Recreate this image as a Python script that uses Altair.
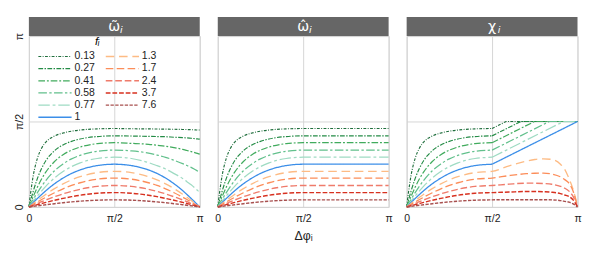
import altair as alt
import pandas as pd

# series labels (f_i) and styles
F_LABELS = ["0.13", "0.27", "0.41", "0.58", "0.77", "1", "1.3", "1.7", "2.4", "3.7", "7.6"]
COLORS = ["#1f6e3c", "#238b45", "#41ab5d", "#62c08c", "#9fdbc3", "#3b8ee8",
          "#fdbb84", "#fc8d59", "#ef7b6b", "#d7301f", "#a8504f"]
DASHES = [[3, 1.5, 1, 1.5], [5, 1.5, 1.5, 1.5], [7, 2, 2, 2], [9, 2.5, 2.5, 2.5], [12, 3, 3, 3], [1, 0],
          [9, 5], [8, 3.5], [7, 3], [5, 2], [3.5, 1.5]]
WIDTHS = [1.2, 1.5, 1.8, 2.0, 2.2, 1.6, 2.2, 2.0, 1.8, 1.5, 1.3]

PANELS = ["ω̃", "ω̂", "χ"]

# Δφ in units of π ; angles in units of π/2
X_LEFT = [0, 0.01, 0.025, 0.05, 0.075, 0.1, 0.15, 0.2, 0.25, 0.3, 0.4, 0.5]
LEFT = {
    "0.13": [0, 0.16, 0.36, 0.57, 0.69, 0.76, 0.83, 0.865, 0.887, 0.90, 0.914, 0.918],
    "0.27": [0, 0.074, 0.18, 0.334, 0.453, 0.543, 0.658, 0.726, 0.768, 0.795, 0.824, 0.832],
    "0.41": [0, 0.049, 0.12, 0.232, 0.329, 0.411, 0.532, 0.612, 0.665, 0.701, 0.741, 0.752],
    "0.58": [0, 0.034, 0.086, 0.168, 0.244, 0.312, 0.423, 0.504, 0.563, 0.604, 0.651, 0.665],
    "0.77": [0, 0.026, 0.065, 0.128, 0.187, 0.243, 0.339, 0.415, 0.473, 0.516, 0.567, 0.582],
    "1":    [0, 0.02, 0.05, 0.099, 0.146, 0.191, 0.271, 0.338, 0.392, 0.433, 0.484, 0.5],
    "1.3":  [0, 0.015, 0.038, 0.076, 0.113, 0.149, 0.214, 0.27, 0.317, 0.354, 0.402, 0.417],
    "1.7":  [0, 0.012, 0.029, 0.058, 0.087, 0.114, 0.166, 0.212, 0.251, 0.283, 0.325, 0.338],
    "2.4":  [0, 0.008, 0.021, 0.041, 0.062, 0.082, 0.119, 0.153, 0.182, 0.207, 0.24, 0.251],
    "3.7":  [0, 0.005, 0.0135, 0.027, 0.04, 0.053, 0.078, 0.1, 0.12, 0.137, 0.16, 0.168],
    "7.6":  [0, 0.003, 0.0066, 0.013, 0.0196, 0.026, 0.038, 0.049, 0.059, 0.0675, 0.079, 0.083],
}

X_RIGHT = [0.6, 0.7, 0.75, 0.8, 0.85, 0.9, 0.925, 0.95, 0.975, 0.99, 1.0]
W_TILDE_RIGHT = {
    "0.13": [0.915, 0.914, 0.912, 0.911, 0.909, 0.907, 0.906, 0.904, 0.902, 0.90, 0.90],
    "0.27": [0.830, 0.826, 0.824, 0.822, 0.816, 0.811, 0.808, 0.804, 0.798, 0.795, 0.793],
    "0.41": [0.744, 0.733, 0.722, 0.711, 0.694, 0.674, 0.661, 0.648, 0.633, 0.624, 0.619],
    "0.58": [0.656, 0.630, 0.607, 0.581, 0.546, 0.507, 0.485, 0.463, 0.435, 0.418, 0.407],
    "0.77": [0.567, 0.519, 0.483, 0.444, 0.390, 0.333, 0.296, 0.259, 0.215, 0.188, 0.174],
    "1":    [0.484, 0.433, 0.392, 0.338, 0.271, 0.191, 0.146, 0.099, 0.05, 0.02, 0],
    "1.3":  [0.402, 0.354, 0.317, 0.27, 0.214, 0.149, 0.113, 0.076, 0.038, 0.015, 0],
    "1.7":  [0.325, 0.283, 0.251, 0.212, 0.166, 0.114, 0.087, 0.058, 0.029, 0.012, 0],
    "2.4":  [0.24, 0.207, 0.182, 0.153, 0.119, 0.082, 0.062, 0.041, 0.021, 0.008, 0],
    "3.7":  [0.16, 0.137, 0.12, 0.1, 0.078, 0.053, 0.04, 0.027, 0.0135, 0.005, 0],
    "7.6":  [0.079, 0.0675, 0.059, 0.049, 0.038, 0.026, 0.0196, 0.013, 0.0066, 0.003, 0],
}

# ω̂ stays at its plateau after π/2
W_HAT_END = {"0.13": 0.918, "0.27": 0.832, "0.41": 0.752, "0.58": 0.665, "0.77": 0.582, "1": 0.5,
             "1.3": 0.417, "1.7": 0.338, "2.4": 0.251, "3.7": 0.168, "7.6": 0.083}

# χ right half: f <= 1 rises straight from its π/2 value to π/2, then stays there
CHI_CAP_X = {"0.13": [0.5, 0.582, 1.0], "0.27": [0.5, 0.668, 1.0], "0.41": [0.5, 0.748, 1.0],
             "0.58": [0.5, 0.835, 1.0], "0.77": [0.5, 0.918, 1.0], "1": [0.5, 1.0]}
CHI_CAP_V = {"0.13": [0.918, 1, 1], "0.27": [0.832, 1, 1], "0.41": [0.752, 1, 1],
             "0.58": [0.665, 1, 1], "0.77": [0.582, 1, 1], "1": [0.5, 1]}
CHI_RIGHT = {
    "1.3": [0.481, 0.537, 0.555, 0.563, 0.556, 0.50, 0.44, 0.333, 0.20, 0.09, 0],
    "1.7": [0.367, 0.389, 0.394, 0.396, 0.385, 0.352, 0.32, 0.278, 0.18, 0.08, 0],
    "2.4": [0.267, 0.278, 0.278, 0.274, 0.265, 0.241, 0.22, 0.185, 0.12, 0.05, 0],
    "3.7": [0.174, 0.181, 0.181, 0.178, 0.172, 0.156, 0.14, 0.122, 0.08, 0.035, 0],
    "7.6": [0.085, 0.085, 0.085, 0.085, 0.083, 0.074, 0.065, 0.056, 0.035, 0.015, 0],
}


def build(panel):
    rows = []
    for f in F_LABELS:
        xs, vs = list(X_LEFT), list(LEFT[f])
        lin_x, lin_v = [], []
        if panel == 0:
            xs += X_RIGHT
            vs += W_TILDE_RIGHT[f]
        elif panel == 1:
            xs += [1.0]
            vs += [W_HAT_END[f]]
        else:
            if f in CHI_CAP_X:
                lin_x, lin_v = CHI_CAP_X[f], CHI_CAP_V[f]
            else:
                xs += X_RIGHT
                vs += CHI_RIGHT[f]
        for x, v in zip(xs, vs):
            rows.append({"f": f, "x": x, "v": v, "seg": "main"})
        for x, v in zip(lin_x, lin_v):
            rows.append({"f": f, "x": x, "v": v, "seg": "lin"})
    return pd.DataFrame(rows)


FONT = "Liberation Sans"
PW, PH = 180, 180

LEG = alt.Legend(title="fᵢ", orient="none", legendX=9, legendY=0, columns=2, symbolSize=1225,
                 symbolType="stroke", labelFontSize=11, labelFont=FONT, titleFont=FONT,
                 titleFontStyle="italic", titleFontSize=12, titleFontWeight="normal",
                 titleAnchor="middle", titleAlign="center", titlePadding=4, rowPadding=0.8,
                 columnPadding=10, clipHeight=11, labelOffset=2, padding=0, labelColor="#222")

XLAB = "datum.value == 0 ? '0' : (datum.value == 1 ? 'π' : 'π/2')"
YLAB = "datum.value == 0 ? '0' : (datum.value == 2 ? 'π' : 'π/2')"


def panel(i):
    df = build(i)
    first = i == 0
    xaxis = alt.Axis(values=[0, 0.5, 1], labelExpr=XLAB, title="Δφᵢ" if i == 1 else None,
                     labelFlush=False, labelPadding=6, titleFontWeight="normal", titleFontSize=13,
                     titlePadding=7)
    if first:
        yaxis = alt.Axis(values=[0, 1, 2], labelExpr=YLAB, title=None, labelAngle=-90,
                         labelFlush=False, labelPadding=5, labelAlign="center", labelBaseline="bottom")
    else:
        yaxis = alt.Axis(values=[0, 1, 2], labels=False, title=None)
    base = alt.Chart(df).encode(
        x=alt.X("x:Q", scale=alt.Scale(domain=[0, 1], nice=False, zero=False), axis=xaxis),
        y=alt.Y("v:Q", scale=alt.Scale(domain=[0, 2], nice=False), axis=yaxis),
        color=alt.Color("f:N", scale=alt.Scale(domain=F_LABELS, range=COLORS), legend=LEG if first else None),
        strokeDash=alt.StrokeDash("f:N", scale=alt.Scale(domain=F_LABELS, range=DASHES),
                                  legend=LEG if first else None),
        strokeWidth=alt.StrokeWidth("f:N", scale=alt.Scale(domain=F_LABELS, range=WIDTHS),
                                    legend=LEG if first else None),
    )
    smooth = base.transform_filter("datum.seg == 'main'").mark_line(interpolate="monotone")
    layers = [smooth]
    if i == 2:
        layers.append(base.transform_filter("datum.seg == 'lin'").mark_line())
    hd = alt.Chart(pd.DataFrame({"s": [PANELS[i]], "sub": ["i"]}))
    rect = hd.mark_rect(color="#666666").encode(
        x=alt.value(0), x2=alt.value(PW), y=alt.value(-20), y2=alt.value(0))
    txt = hd.mark_text(color="white", fontSize=15, font="DejaVu Sans", align="center", baseline="middle").encode(
        x=alt.value(PW / 2), y=alt.value(-10), text="s:N")
    sub = hd.mark_text(color="white", fontSize=10, font="DejaVu Sans", fontStyle="italic",
                       align="left", baseline="middle").encode(
        x=alt.value(PW / 2 + 6), y=alt.value(-6), text="sub:N")
    return alt.layer(*layers, rect, txt, sub).properties(width=PW, height=PH)


chart = alt.hconcat(panel(0), panel(1), panel(2), spacing=10).resolve_scale(
    color="independent", strokeDash="independent", strokeWidth="independent"
).properties(
    padding={"left": 5, "top": 2, "right": 5, "bottom": 5}
).configure_view(stroke="#d4d4d4").configure_axis(
    gridColor="#d4d4d4", domain=False, ticks=False, tickSize=0, labelFont=FONT, titleFont=FONT,
    labelFontSize=11, labelColor="#222", titleColor="#222"
)

chart.save("out.html", embed_options={"renderer": "svg", "actions": False})
